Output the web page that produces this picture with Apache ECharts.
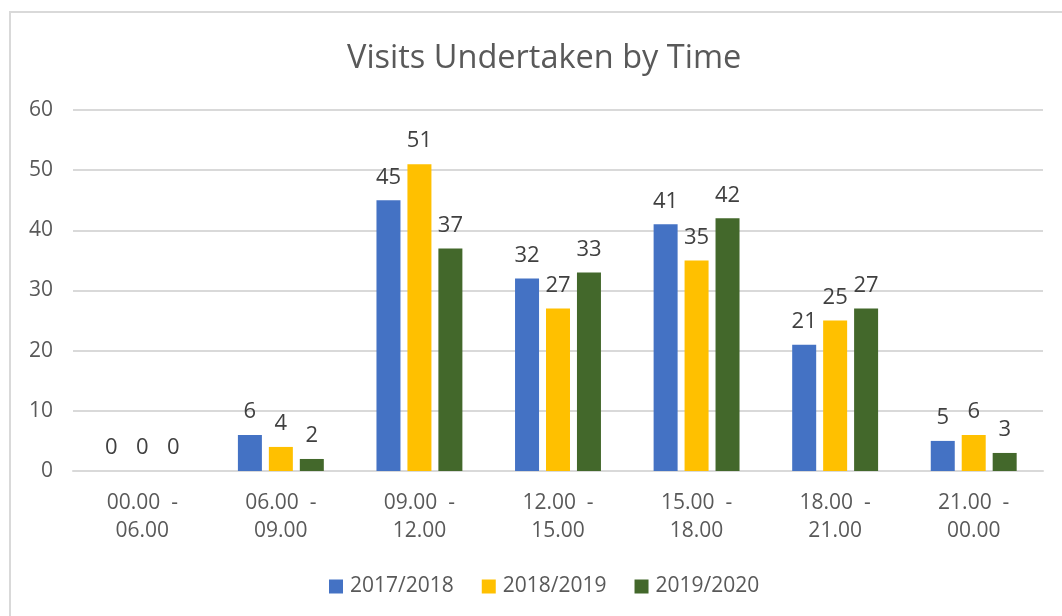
<!DOCTYPE html>
<html>
<head>
<meta charset="utf-8">
<script src="https://cdn.jsdelivr.net/npm/echarts@6/dist/echarts.min.js"></script>
<style>
  html, body { margin: 0; padding: 0; background: #fff; }
  #chart { width: 1062px; height: 616px; }
</style>
</head>
<body>
<div id="chart"></div>
<script>
  // chart data
  const categories = ['00.00  -\n06.00', '06.00  -\n09.00', '09.00  -\n12.00', '12.00  -\n15.00',
    '15.00  -\n18.00', '18.00  -\n21.00', '21.00  -\n00.00']
  const seriesNames = ['2017/2018', '2018/2019', '2019/2020']
  const visits1718 = [0, 6, 45, 32, 41, 21, 5]
  const visits1819 = [0, 4, 51, 27, 35, 25, 6]
  const visits1920 = [0, 2, 37, 33, 42, 27, 3]
  const colors = ['#4472C4', '#FFC000', '#43682B']

  const font = 'Open Sans, sans-serif'

  const makeSeries = (name, data, color) => ({
    name: name,
    type: 'bar',
    data: data,
    barGap: '29%',
    barCategoryGap: '38%',
    itemStyle: {
      color: color
    },
    label: {
      show: true,
      position: 'top',
      distance: 12,
      color: '#404040',
      fontSize: 22,
      fontFamily: font
    }
  })

  const chart = echarts.init(document.getElementById('chart'))
  chart.setOption({
    animation: false,
    color: colors,
    title: {
      text: 'Visits Undertaken by Time',
      left: 342,
      top: 37,
      textStyle: {
        color: '#595959',
        fontSize: 32.5,
        fontWeight: 'normal',
        fontFamily: font
      }
    },
    graphic: [{
      type: 'rect',
      shape: {x: 10, y: 12, width: 1100, height: 700},
      style: {fill: 'none', stroke: '#d9d9d9', lineWidth: 2}
    }],
    legend: {
      data: seriesNames,
      bottom: 14,
      left: 324,
      itemWidth: 14,
      itemHeight: 14,
      itemGap: 28,
      icon: 'rect',
      textStyle: {
        color: '#595959',
        fontSize: 21,
        fontFamily: font,
        padding: [0, 0, 0, 2]
      }
    },
    grid: {
      left: 73,
      right: 19,
      top: 110,
      bottom: 145,
      containLabel: false
    },
    xAxis: {
      type: 'category',
      data: categories,
      axisLine: {lineStyle: {color: '#d9d9d9', width: 2}},
      axisTick: {show: false},
      axisLabel: {
        color: '#595959',
        fontSize: 21,
        fontFamily: font,
        lineHeight: 28,
        margin: 18
      }
    },
    yAxis: {
      type: 'value',
      min: 0,
      max: 60,
      interval: 10,
      axisLine: {show: false},
      axisTick: {show: false},
      splitLine: {lineStyle: {color: '#d9d9d9', width: 2}},
      axisLabel: {
        color: '#595959',
        fontSize: 21,
        fontFamily: font,
        margin: 20
      }
    },
    series: [
      makeSeries(seriesNames[0], visits1718, colors[0]),
      makeSeries(seriesNames[1], visits1819, colors[1]),
      makeSeries(seriesNames[2], visits1920, colors[2])
    ]
  })
</script>
</body>
</html>
